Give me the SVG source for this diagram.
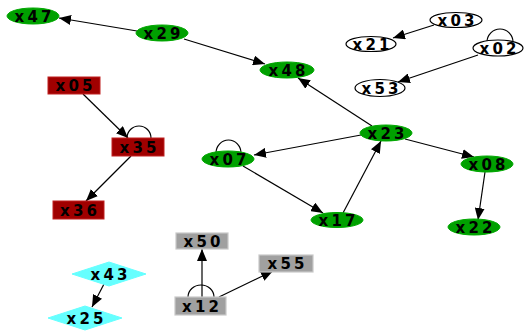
<svg xmlns="http://www.w3.org/2000/svg" width="524" height="335" viewBox="0 0 524 335">
<defs>
<marker id="ah" markerUnits="userSpaceOnUse" markerWidth="12" markerHeight="10" viewBox="0 0 12 10" refX="12" refY="5" orient="auto">
<path d="M0,0 L12,5 L0,10 Z" fill="#000"/>
</marker>
<style>
.g{fill:#00a000;stroke:#00a800;stroke-width:1}
.w{fill:#fff;stroke:#000;stroke-width:1.2}
.r{fill:#a00000;stroke:#c02020;stroke-width:1}
.y{fill:#a0a0a0;stroke:#c8c8c8;stroke-width:1.2}
.c{fill:#66ffff;stroke:#66ffff;stroke-width:1}
.e{fill:none;stroke:#000;stroke-width:1.2}
.a{marker-end:url(#ah)}
text{font-family:"DejaVu Sans","Liberation Sans",sans-serif;font-weight:bold;font-size:15px;fill:#000;text-anchor:middle}
</style>
</defs>
<rect width="524" height="335" fill="#fff"/>
<g id="connectors">
<path class="e a" d="M137,31 L59,18"/>
<path class="e a" d="M184,39 L265,64"/>
<path class="e a" d="M372,126 L298,78"/>
<path class="e a" d="M361,135 L254,155"/>
<path class="e a" d="M243,166 L323,213"/>
<path class="e a" d="M343,213 L381,141"/>
<path class="e a" d="M405,139 L474,157"/>
<path class="e a" d="M485,172 L478,220"/>
<path class="e a" d="M434,25 L393,38"/>
<path class="e a" d="M478,55 L398,82"/>
<path class="e a" d="M83,94 L128,138"/>
<path class="e a" d="M131,156 L86,201"/>
<path class="e a" d="M104,284 L92,307"/>
<path class="e a" d="M202,297 L202,249"/>
<path class="e a" d="M219,297 L273,271"/>
<path class="e" d="M127,138 A12,12 0 1 1 151,138"/>
<path class="e" d="M216,153 A12.5,13 0 1 1 241,153"/>
<path class="e" d="M487,42 A13,13 0 1 1 513,42"/>
<path class="e" d="M188,297 A13,12 0 1 1 214,297"/>
</g>
<g id="x47"><ellipse class="g" cx="33" cy="16" rx="26" ry="8"/><text x="33" y="21.5" textLength="37">x47</text></g>
<g id="x29"><ellipse class="g" cx="162" cy="33" rx="26" ry="8"/><text x="162" y="38.5" textLength="37">x29</text></g>
<g id="x48"><ellipse class="g" cx="287" cy="70" rx="27" ry="8"/><text x="287" y="75.5" textLength="37">x48</text></g>
<g id="x07"><ellipse class="g" cx="228" cy="159" rx="26" ry="8"/><text x="228" y="164.5" textLength="37">x07</text></g>
<g id="x23"><ellipse class="g" cx="386" cy="133" rx="26" ry="8"/><text x="386" y="138.5" textLength="37">x23</text></g>
<g id="x08"><ellipse class="g" cx="487" cy="164" rx="26" ry="8"/><text x="487" y="169.5" textLength="37">x08</text></g>
<g id="x17"><ellipse class="g" cx="337" cy="220" rx="26" ry="7.5"/><text x="337" y="225.5" textLength="37">x17</text></g>
<g id="x22"><ellipse class="g" cx="474" cy="227" rx="26" ry="8"/><text x="474" y="232.5" textLength="37">x22</text></g>
<g id="x03"><ellipse class="w" cx="456" cy="20" rx="26" ry="7.5"/><text x="456" y="25.5" textLength="37">x03</text></g>
<g id="x21"><ellipse class="w" cx="371" cy="44" rx="25" ry="7.5"/><text x="371" y="49.5" textLength="37">x21</text></g>
<g id="x02"><ellipse class="w" cx="498" cy="48" rx="25" ry="8"/><text x="498" y="53.5" textLength="37">x02</text></g>
<g id="x53"><ellipse class="w" cx="380" cy="88" rx="25" ry="8.5"/><text x="380" y="93.5" textLength="37">x53</text></g>
<g id="x05"><rect class="r" x="48" y="77" width="52" height="17"/><text x="74" y="91" textLength="37">x05</text></g>
<g id="x35"><rect class="r" x="112" y="138" width="52" height="18"/><text x="138" y="152.5" textLength="37">x35</text></g>
<g id="x36"><rect class="r" x="53" y="201" width="51" height="18"/><text x="78.5" y="215.5" textLength="37">x36</text></g>
<g id="x50"><rect class="y" x="176" y="233" width="52" height="16"/><text x="202" y="246.5" textLength="37">x50</text></g>
<g id="x55"><rect class="y" x="259" y="255" width="54" height="17"/><text x="286" y="269" textLength="37">x55</text></g>
<g id="x12"><rect class="y" x="175" y="297" width="51" height="18"/><text x="200.5" y="311.5" textLength="37">x12</text></g>
<g id="x43"><polygon class="c" points="72,274 109,262 146,274 109,286"/><text x="109" y="279.5" textLength="37">x43</text></g>
<g id="x25"><polygon class="c" points="48,318 85,306 122,318 85,330"/><text x="85" y="323.5" textLength="37">x25</text></g>
</svg>
